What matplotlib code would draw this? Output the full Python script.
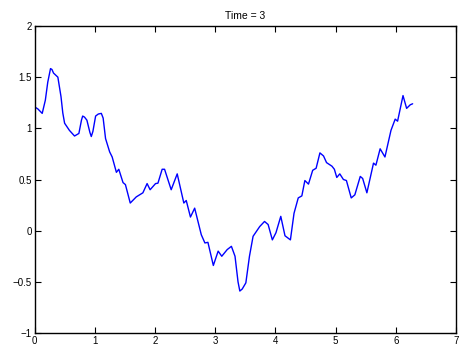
import matplotlib
matplotlib.use("Agg")
import matplotlib.pyplot as plt

# Curve
x_vals = [0.00, 0.055, 0.128, 0.18, 0.22, 0.266, 0.29, 0.316, 0.388, 0.44,
          0.47, 0.50, 0.58, 0.665, 0.737, 0.78, 0.80, 0.83, 0.87, 0.92,
          0.943, 0.97, 1.015, 1.06, 1.11, 1.14, 1.18, 1.248, 1.29, 1.36,
          1.40, 1.47, 1.51, 1.59, 1.69, 1.80, 1.87, 1.92, 2.01, 2.05,
          2.12, 2.16, 2.27, 2.37, 2.48, 2.52, 2.59, 2.66, 2.77, 2.83,
          2.88, 2.97, 3.05, 3.11, 3.20, 3.27, 3.33, 3.38, 3.41, 3.45,
          3.51, 3.57, 3.63, 3.74, 3.82, 3.88, 3.95, 4.01, 4.09, 4.16,
          4.25, 4.31, 4.38, 4.44, 4.49, 4.55, 4.62, 4.677, 4.74, 4.80,
          4.85, 4.94, 4.98, 5.02, 5.07, 5.13, 5.18, 5.26, 5.32, 5.41,
          5.45, 5.52, 5.63, 5.67, 5.74, 5.82, 5.92, 5.99, 6.03, 6.12,
          6.18, 6.24, 6.28]
y_vals = [1.21, 1.19, 1.146, 1.275, 1.45, 1.584, 1.575, 1.54, 1.50, 1.31,
          1.15, 1.05, 0.98, 0.925, 0.95, 1.08, 1.12, 1.11, 1.08, 0.96,
          0.92, 0.97, 1.12, 1.14, 1.146, 1.10, 0.90, 0.77, 0.72, 0.57,
          0.60, 0.47, 0.45, 0.27, 0.33, 0.37, 0.46, 0.40, 0.46, 0.464,
          0.60, 0.60, 0.40, 0.555, 0.27, 0.295, 0.133, 0.22, -0.04, -0.12,
          -0.114, -0.34, -0.20, -0.25, -0.185, -0.153, -0.25, -0.50, -0.59, -0.57,
          -0.51, -0.25, -0.055, 0.04, 0.09, 0.06, -0.09, -0.02, 0.14, -0.05,
          -0.09, 0.17, 0.32, 0.34, 0.49, 0.455, 0.59, 0.61, 0.76, 0.73,
          0.665, 0.63, 0.60, 0.52, 0.555, 0.50, 0.49, 0.32, 0.35, 0.53,
          0.51, 0.37, 0.66, 0.64, 0.80, 0.72, 0.98, 1.09, 1.07, 1.32,
          1.195, 1.23, 1.24]

x_ticks = [0, 1, 2, 3, 4, 5, 6, 7]
y_ticks = [-1, -0.5, 0, 0.5, 1, 1.5, 2]
y_tick_labels = ["\u22121", "\u22120.5", "0", "0.5", "1", "1.5", "2"]

plt.rcParams["font.family"] = ["Liberation Sans", "DejaVu Sans"]

fig = plt.figure(figsize=(4.59, 3.47), dpi=100)
ax = fig.add_axes([34.5 / 459, 1 - 333 / 347, (456 - 34.5) / 459, (333 - 26) / 347])

ax.plot(x_vals, y_vals, color="#0000ff", linewidth=1.0,
        solid_joinstyle="round", solid_capstyle="round")

ax.set_xlim(0, 7)
ax.set_ylim(-1, 2)
ax.set_xticks(x_ticks)
ax.set_yticks(y_ticks)
ax.set_yticklabels(y_tick_labels)
ax.tick_params(direction="in", length=4, width=0.8, labelsize=7,
               top=True, right=True, pad=2)
for spine in ax.spines.values():
    spine.set_linewidth(1.0)

ax.set_title("Time = 3", fontsize=7.5, pad=5)

fig.savefig("out.png", dpi=100)
